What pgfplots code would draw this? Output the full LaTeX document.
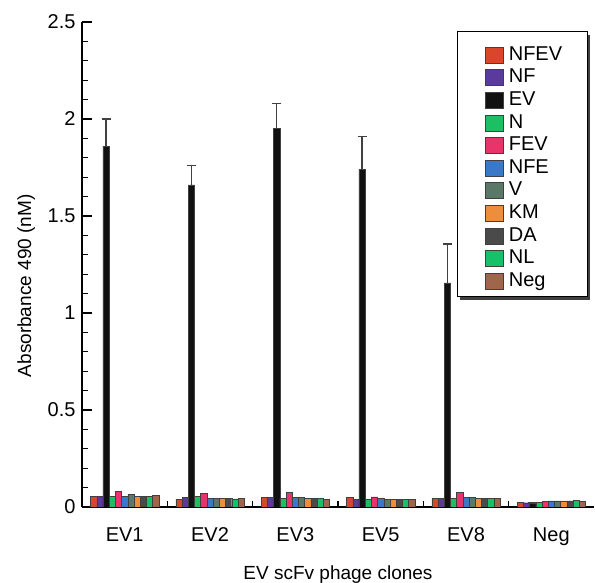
\documentclass[border=0pt]{standalone}
\usepackage{pgfplots}
\pgfplotsset{compat=1.18}
\usepackage{pgfplotstable}
\usepackage{fontspec}
\setmainfont{Liberation Sans}

\definecolor{cNFEV}{HTML}{D9472B}
\definecolor{cNF}{HTML}{5B3A9E}
\definecolor{cEV}{HTML}{111111}
\definecolor{cN}{HTML}{1DBF63}
\definecolor{cFEV}{HTML}{E8336B}
\definecolor{cNFE}{HTML}{3A78C9}
\definecolor{cV}{HTML}{5A7868}
\definecolor{cKM}{HTML}{EE8E3A}
\definecolor{cDA}{HTML}{4A4A4A}
\definecolor{cNL}{HTML}{18C06A}
\definecolor{cNeg}{HTML}{A0664C}

% absorbance per clone (x = 0..5 -> EV1, EV2, EV3, EV5, EV8, Neg)
\pgfplotstableread{
x NFEV  NF    EV    EVerr N     FEV   NFE   V     KM    DA    NL    Neg
0 0.056 0.056 1.86  0.14  0.056 0.082 0.056 0.067 0.056 0.056 0.056 0.060
1 0.040 0.050 1.66  0.10  0.056 0.072 0.045 0.045 0.045 0.045 0.042 0.045
2 0.050 0.050 1.95  0.13  0.045 0.077 0.050 0.050 0.045 0.045 0.045 0.040
3 0.050 0.040 1.74  0.17  0.040 0.052 0.045 0.040 0.040 0.040 0.040 0.040
4 0.045 0.045 1.155 0.20  0.045 0.075 0.050 0.050 0.045 0.045 0.045 0.045
5 0.025 0.022 0.022 0     0.025 0.028 0.032 0.032 0.032 0.032 0.036 0.030
}\absdata

\pgfplotsset{barst/.style={fill=#1, draw=black!75, line width=0.4bp,
  legend image code/.code={\draw[##1] (0bp,-8bp) rectangle (18bp,8bp);}}}

\begin{document}
\begin{tikzpicture}
\path[use as bounding box] (0,0) rectangle (595bp,583bp);
% legend frame with its shadow
\fill[black!75] (460bp,283bp) rectangle (590bp,548bp);
\draw[fill=white, line width=1bp] (457bp,286bp) rectangle (587bp,551bp);
\begin{axis}[
    at={(82bp,76bp)}, anchor=south west,
    scale only axis, width=512bp, height=485bp,
    ybar=0pt, bar width=6.2bp,
    xmin=-0.5, xmax=5.5, ymin=0, ymax=2.5,
    axis x line*=bottom, axis y line*=left,
    axis line style={line width=1.7bp, -},
    tick align=inside,
    xtick={0,...,5}, xticklabels={EV1,EV2,EV3,EV5,EV8,Neg},
    minor xtick={0.5,1.5,2.5,3.5,4.5},
    major x tick style={draw=none},
    ytick={0,0.5,1,1.5,2,2.5},
    minor y tick num=4,
    major tick length=10bp, minor tick length=6bp,
    tick style={line width=1.3bp, black},
    /pgf/number format/assume math mode=true,
    ticklabel style={font=\fontsize{20bp}{22bp}\selectfont},
    xticklabel style={yshift=-17bp},
    yticklabel style={xshift=-3bp},
    every axis x label/.style={at={(axis description cs:0.5,-0.1505)}, anchor=base},
    every axis y label/.style={at={(axis description cs:-0.109,0.456)}, rotate=90, anchor=center},
    label style={font=\fontsize{19bp}{22bp}\selectfont},
    xlabel={EV scFv phage clones},
    ylabel={Absorbance 490 (nM)},
    legend style={at={(axis description cs:0.787,0.9557)}, anchor=north west,
        draw=none, fill=none,
        font=\fontsize{20bp}{22bp}\selectfont, cells={anchor=west},
        nodes={text height=14.5bp, text depth=4bp, inner ysep=2.05bp},
        column sep=3.3bp, inner xsep=0bp, inner ysep=0bp},
]
\addplot[barst=cNFEV] table[x=x, y=NFEV] {\absdata};
\addplot[barst=cNF] table[x=x, y=NF] {\absdata};
\addplot[barst=cEV, error bars/.cd, y dir=plus, y explicit,
    error bar style={line width=1.4bp, black!75},
    error mark options={rotate=90, mark size=4.5bp, line width=1.8bp, black!75}]
    table[x=x, y=EV, y error=EVerr] {\absdata};
\addplot[barst=cN] table[x=x, y=N] {\absdata};
\addplot[barst=cFEV] table[x=x, y=FEV] {\absdata};
\addplot[barst=cNFE] table[x=x, y=NFE] {\absdata};
\addplot[barst=cV] table[x=x, y=V] {\absdata};
\addplot[barst=cKM] table[x=x, y=KM] {\absdata};
\addplot[barst=cDA] table[x=x, y=DA] {\absdata};
\addplot[barst=cNL] table[x=x, y=NL] {\absdata};
\addplot[barst=cNeg] table[x=x, y=Neg] {\absdata};
\legend{NFEV,NF,EV,N,FEV,NFE,V,KM,DA,NL,Neg}
\end{axis}
\end{tikzpicture}
\end{document}
